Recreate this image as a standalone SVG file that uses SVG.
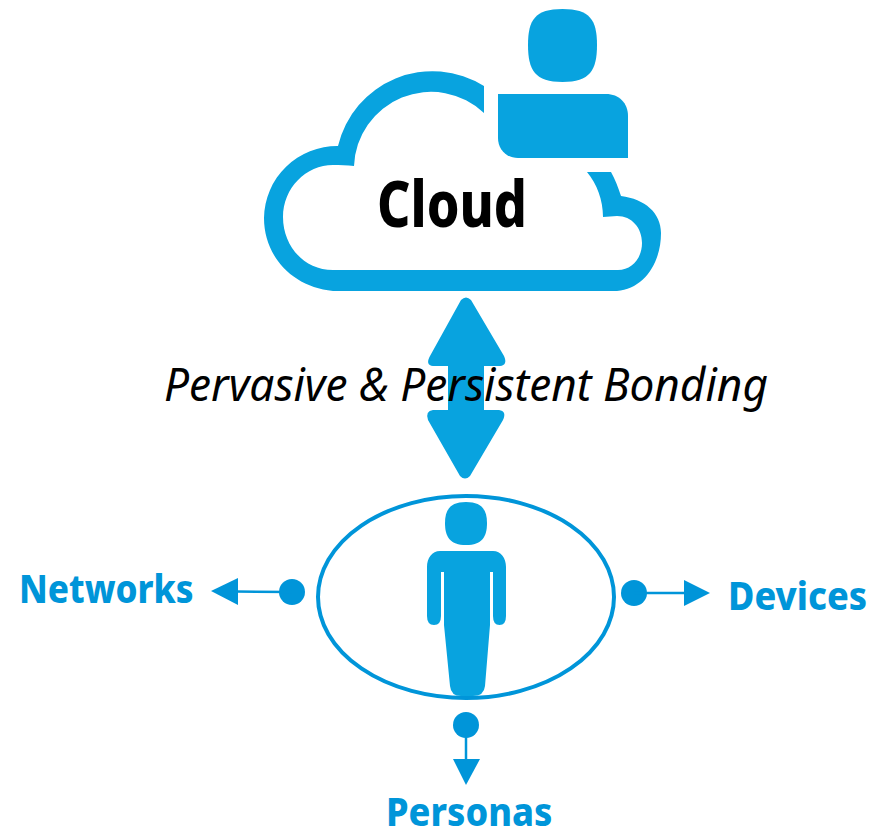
<svg xmlns="http://www.w3.org/2000/svg" width="884" height="830" viewBox="0 0 884 830">
<style>
.c{fill:#08a3df}
.d{fill:#0095d9}
.lbl{font-family:"Noto Sans","Open Sans",sans-serif;font-weight:800;font-size:40px;fill:#0095d9}
.ln{stroke:#0095d9;stroke-width:2.5;fill:none}
</style>
<rect width="884" height="830" fill="#fff"/>
<g id="cloud">
<path class="c" d="M484 86A97 97 0 0 0 338 146A73 73 0 0 0 264 218C264 256 292 287 333 291H617C643 289 661 264 661 233C661 213 645 199 621 196C618 187 615 179 611 172H587C597 184 603 200 603 217L617 216C632 216 642 228 642 243C642 258 632 270 618 270H333C304 270 283 246 283 217C283 188 306 165 333 165C340 165 347 165 354 166A77 77 0 0 1 484 113Z"/>
<text x="377" y="227" font-family="'Noto Sans','Open Sans',sans-serif" font-weight="800" font-size="64" fill="#000" textLength="150" lengthAdjust="spacingAndGlyphs">Cloud</text>
</g>
<g id="cloud-user">
<path class="c" d="M562.500 9C590 9 597 20 597 45C597 70 590 82 562.500 82C535 82 528 70 528 45C528 20 535 9 562.500 9Z"/>
<path class="c" d="M498 94H606C619 94 628 103 628 116V158H518C506 158 498 149 498 138Z"/>
</g>
<g id="connectors">
<path id="bond" class="c" d="M461 300Q466 295 471 300L504 356Q508 365 500 366H484V410H499Q507 411 503 420L470 476Q465 481 460 476L428 420Q425 411 433 410H448V366H433Q425 365 430 356Z"/>
<g id="to-networks">
<circle class="d" cx="292" cy="592" r="13"/>
<path class="ln" d="M292 592L236 591.500"/>
<path class="d" d="M211 591L238 578V605Z"/>
</g>
<g id="to-devices">
<circle class="d" cx="634" cy="593" r="13"/>
<path class="ln" d="M634 593H686"/>
<path class="d" d="M710 593L684 580V606Z"/>
</g>
<g id="to-personas">
<circle class="d" cx="466" cy="725" r="13"/>
<path class="ln" d="M466 725V761"/>
<path class="d" d="M466 785L453 759H480Z"/>
</g>
</g>
<text id="bond-label" x="164" y="401" font-family="'Noto Sans','Open Sans',sans-serif" font-style="italic" font-size="46" fill="#000" textLength="604" lengthAdjust="spacingAndGlyphs">Pervasive &amp; Persistent Bonding</text>
<g id="user">
<ellipse cx="466" cy="597" rx="148" ry="101" fill="none" stroke="#0095d9" stroke-width="4"/>
<path class="c" d="M466 502C482 502 487 510 487 523C487 537 482 545 466 545C450 545 445 537 445 523C445 510 450 502 466 502Z"/>
<path class="c" d="M440 551H493C501 551 506 558 506 567V616Q506 625 499.500 625Q493 625 493 616V572H490V625L485 686Q484 696 473 696H461Q451 696 450 686L444 625V572H441V616Q441 625 434 625Q427 625 427 616V567C427 558 432 551 440 551Z"/>
</g>
<g id="networks"><text class="lbl" transform="translate(19 603) scale(.875 1)">Networks</text></g>
<g id="devices"><text class="lbl" transform="translate(728 610) scale(.9 1)">Devices</text></g>
<g id="personas"><text class="lbl" transform="translate(386 826) scale(.904 1)">Personas</text></g>
</svg>
